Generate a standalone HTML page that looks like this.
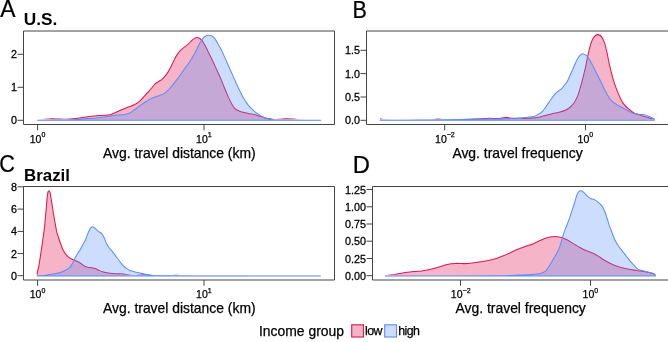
<!DOCTYPE html>
<html><head><meta charset="utf-8"><title>Income group travel densities</title>
<style>
html,body{margin:0;padding:0;background:#fff;}
body{width:668px;height:342px;overflow:hidden;}
svg{display:block;will-change:transform;}
text{font-family:"Liberation Sans", sans-serif;fill:#000;stroke:#000;stroke-width:0.25px;}
</style></head>
<body>
<svg width="668" height="342" viewBox="0 0 668 342">
<rect width="668" height="342" fill="#fff"/>
<clipPath id="rc1"><rect x="34.60" y="0" width="289.00" height="119.00"/></clipPath><path d="M37.60,120.20 C38.83,120.05 42.60,119.53 45.00,119.30 C47.40,119.07 49.83,118.85 52.00,118.80 C54.17,118.75 56.00,118.93 58.00,119.00 C60.00,119.07 62.00,119.22 64.00,119.20 C66.00,119.18 68.02,119.03 70.00,118.90 C71.98,118.77 74.07,118.60 75.90,118.40 C77.73,118.20 79.25,117.95 81.00,117.70 C82.75,117.45 84.65,117.15 86.40,116.90 C88.15,116.65 89.75,116.40 91.50,116.20 C93.25,116.00 95.15,115.83 96.90,115.70 C98.65,115.57 100.25,115.52 102.00,115.40 C103.75,115.28 105.90,115.17 107.40,115.00 C108.90,114.83 109.55,114.85 111.00,114.40 C112.45,113.95 114.23,113.12 116.10,112.30 C117.97,111.48 120.17,110.38 122.20,109.50 C124.23,108.62 126.28,107.80 128.30,107.00 C130.32,106.20 132.53,105.55 134.30,104.70 C136.07,103.85 137.37,103.17 138.90,101.90 C140.43,100.63 142.07,98.65 143.50,97.10 C144.93,95.55 146.33,93.87 147.50,92.60 C148.67,91.33 149.23,90.95 150.50,89.50 C151.77,88.05 153.47,85.40 155.10,83.90 C156.73,82.40 158.78,81.62 160.30,80.50 C161.82,79.38 162.92,78.60 164.20,77.20 C165.48,75.80 166.83,73.92 168.00,72.10 C169.17,70.28 170.20,68.27 171.20,66.30 C172.20,64.33 173.03,62.20 174.00,60.30 C174.97,58.40 176.00,56.47 177.00,54.90 C178.00,53.33 178.83,52.15 180.00,50.90 C181.17,49.65 182.68,48.48 184.00,47.40 C185.32,46.32 186.58,45.57 187.90,44.40 C189.22,43.23 190.73,41.45 191.90,40.40 C193.07,39.35 194.07,38.58 194.90,38.10 C195.73,37.62 196.15,37.48 196.90,37.50 C197.65,37.52 198.57,37.72 199.40,38.20 C200.23,38.68 201.00,39.28 201.90,40.40 C202.80,41.52 203.82,43.15 204.80,44.90 C205.78,46.65 206.80,48.90 207.80,50.90 C208.80,52.90 209.80,54.85 210.80,56.90 C211.80,58.95 212.72,60.85 213.80,63.20 C214.88,65.55 216.10,68.35 217.30,71.00 C218.50,73.65 219.82,76.32 221.00,79.10 C222.18,81.88 223.15,84.65 224.40,87.70 C225.65,90.75 227.05,94.32 228.50,97.40 C229.95,100.48 231.70,104.10 233.10,106.20 C234.50,108.30 235.43,109.05 236.90,110.00 C238.37,110.95 240.02,111.33 241.90,111.90 C243.78,112.47 245.85,112.88 248.20,113.40 C250.55,113.92 253.70,114.43 256.00,115.00 C258.30,115.57 260.00,116.20 262.00,116.80 C264.00,117.40 266.00,118.17 268.00,118.60 C270.00,119.03 272.00,119.30 274.00,119.40 C276.00,119.50 278.02,119.32 280.00,119.20 C281.98,119.08 283.92,118.75 285.90,118.70 C287.88,118.65 289.90,118.77 291.90,118.90 C293.90,119.03 295.90,119.33 297.90,119.50 C299.90,119.67 300.12,119.82 303.90,119.90 C307.68,119.98 317.82,119.98 320.60,120.00 L320.60,120.20 L37.60,120.20Z" fill="rgba(225,22,82,0.32)"/><path d="M37.60,120.20 C38.83,120.05 42.60,119.53 45.00,119.30 C47.40,119.07 49.83,118.85 52.00,118.80 C54.17,118.75 56.00,118.93 58.00,119.00 C60.00,119.07 62.00,119.22 64.00,119.20 C66.00,119.18 68.02,119.03 70.00,118.90 C71.98,118.77 74.07,118.60 75.90,118.40 C77.73,118.20 79.25,117.95 81.00,117.70 C82.75,117.45 84.65,117.15 86.40,116.90 C88.15,116.65 89.75,116.40 91.50,116.20 C93.25,116.00 95.15,115.83 96.90,115.70 C98.65,115.57 100.25,115.52 102.00,115.40 C103.75,115.28 105.90,115.17 107.40,115.00 C108.90,114.83 109.55,114.85 111.00,114.40 C112.45,113.95 114.23,113.12 116.10,112.30 C117.97,111.48 120.17,110.38 122.20,109.50 C124.23,108.62 126.28,107.80 128.30,107.00 C130.32,106.20 132.53,105.55 134.30,104.70 C136.07,103.85 137.37,103.17 138.90,101.90 C140.43,100.63 142.07,98.65 143.50,97.10 C144.93,95.55 146.33,93.87 147.50,92.60 C148.67,91.33 149.23,90.95 150.50,89.50 C151.77,88.05 153.47,85.40 155.10,83.90 C156.73,82.40 158.78,81.62 160.30,80.50 C161.82,79.38 162.92,78.60 164.20,77.20 C165.48,75.80 166.83,73.92 168.00,72.10 C169.17,70.28 170.20,68.27 171.20,66.30 C172.20,64.33 173.03,62.20 174.00,60.30 C174.97,58.40 176.00,56.47 177.00,54.90 C178.00,53.33 178.83,52.15 180.00,50.90 C181.17,49.65 182.68,48.48 184.00,47.40 C185.32,46.32 186.58,45.57 187.90,44.40 C189.22,43.23 190.73,41.45 191.90,40.40 C193.07,39.35 194.07,38.58 194.90,38.10 C195.73,37.62 196.15,37.48 196.90,37.50 C197.65,37.52 198.57,37.72 199.40,38.20 C200.23,38.68 201.00,39.28 201.90,40.40 C202.80,41.52 203.82,43.15 204.80,44.90 C205.78,46.65 206.80,48.90 207.80,50.90 C208.80,52.90 209.80,54.85 210.80,56.90 C211.80,58.95 212.72,60.85 213.80,63.20 C214.88,65.55 216.10,68.35 217.30,71.00 C218.50,73.65 219.82,76.32 221.00,79.10 C222.18,81.88 223.15,84.65 224.40,87.70 C225.65,90.75 227.05,94.32 228.50,97.40 C229.95,100.48 231.70,104.10 233.10,106.20 C234.50,108.30 235.43,109.05 236.90,110.00 C238.37,110.95 240.02,111.33 241.90,111.90 C243.78,112.47 245.85,112.88 248.20,113.40 C250.55,113.92 253.70,114.43 256.00,115.00 C258.30,115.57 260.00,116.20 262.00,116.80 C264.00,117.40 266.00,118.17 268.00,118.60 C270.00,119.03 272.00,119.30 274.00,119.40 C276.00,119.50 278.02,119.32 280.00,119.20 C281.98,119.08 283.92,118.75 285.90,118.70 C287.88,118.65 289.90,118.77 291.90,118.90 C293.90,119.03 295.90,119.33 297.90,119.50 C299.90,119.67 300.12,119.82 303.90,119.90 C307.68,119.98 317.82,119.98 320.60,120.00" fill="none" stroke="#e11652" stroke-width="1.05" stroke-linejoin="round" clip-path="url(#rc1)"/>
<path d="M37.60,120.20 C40.50,120.18 49.12,120.18 55.00,120.10 C60.88,120.02 68.92,119.85 72.90,119.70 C76.88,119.55 76.38,119.38 78.90,119.20 C81.42,119.02 85.00,118.80 88.00,118.60 C91.00,118.40 94.57,118.22 96.90,118.00 C99.23,117.78 100.02,117.58 102.00,117.30 C103.98,117.02 106.97,116.60 108.80,116.30 C110.63,116.00 111.53,115.73 113.00,115.50 C114.47,115.27 115.57,115.08 117.60,114.90 C119.63,114.72 123.17,114.72 125.20,114.40 C127.23,114.08 128.28,113.77 129.80,113.00 C131.32,112.23 132.78,110.88 134.30,109.80 C135.82,108.72 137.12,107.77 138.90,106.50 C140.68,105.23 143.15,103.43 145.00,102.20 C146.85,100.97 148.32,99.98 150.00,99.10 C151.68,98.22 153.38,97.53 155.10,96.90 C156.82,96.27 158.58,96.00 160.30,95.30 C162.02,94.60 163.68,94.00 165.40,92.70 C167.12,91.40 168.88,89.43 170.60,87.50 C172.32,85.57 173.98,83.35 175.70,81.10 C177.42,78.85 179.27,76.25 180.90,74.00 C182.53,71.75 184.25,69.30 185.50,67.60 C186.75,65.90 187.50,65.08 188.40,63.80 C189.30,62.52 189.98,61.38 190.90,59.90 C191.82,58.42 192.90,56.73 193.90,54.90 C194.90,53.07 195.90,50.90 196.90,48.90 C197.90,46.90 198.98,44.55 199.90,42.90 C200.82,41.25 201.58,40.07 202.40,39.00 C203.22,37.93 203.90,37.12 204.80,36.50 C205.70,35.88 206.80,35.45 207.80,35.30 C208.80,35.15 209.80,35.25 210.80,35.60 C211.80,35.95 212.93,36.60 213.80,37.40 C214.67,38.20 215.25,39.22 216.00,40.40 C216.75,41.58 217.38,42.87 218.30,44.50 C219.22,46.13 220.37,47.93 221.50,50.20 C222.63,52.47 223.92,55.47 225.10,58.10 C226.28,60.73 227.43,63.37 228.60,66.00 C229.77,68.63 230.93,71.27 232.10,73.90 C233.27,76.53 234.47,79.28 235.60,81.80 C236.73,84.32 237.63,86.37 238.90,89.00 C240.17,91.63 241.65,94.92 243.20,97.60 C244.75,100.28 246.50,102.97 248.20,105.10 C249.90,107.23 251.87,108.98 253.40,110.40 C254.93,111.82 255.97,112.57 257.40,113.60 C258.83,114.63 260.43,115.78 262.00,116.60 C263.57,117.42 265.20,118.00 266.80,118.50 C268.40,119.00 269.40,119.33 271.60,119.60 C273.80,119.87 271.83,120.00 280.00,120.10 C288.17,120.20 313.83,120.18 320.60,120.20 L320.60,120.20 L37.60,120.20Z" fill="rgba(91,142,248,0.30)" stroke="#5b8ef8" stroke-width="1.05" stroke-linejoin="round"/>
<path d="M23.50,31.00 H334.50 V124.50 H23.50 Z" fill="none" stroke="#444" stroke-width="1"/>
<path d="M17.50,120.30 H23.50" stroke="#444" stroke-width="1"/>
<text transform="translate(16.90,124.30) scale(1.080,1)" font-size="10.00" text-anchor="end" font-weight="normal">0</text>
<path d="M17.50,87.30 H23.50" stroke="#444" stroke-width="1"/>
<text transform="translate(16.90,91.30) scale(1.080,1)" font-size="10.00" text-anchor="end" font-weight="normal">1</text>
<path d="M17.50,54.30 H23.50" stroke="#444" stroke-width="1"/>
<text transform="translate(16.90,58.30) scale(1.080,1)" font-size="10.00" text-anchor="end" font-weight="normal">2</text>
<path d="M37.60,124.50 V130.30" stroke="#444" stroke-width="1"/>
<text x="37.50" y="142.80" font-size="10.50" text-anchor="middle">10<tspan font-size="7" dy="-5.4">0</tspan></text>
<path d="M204.00,124.50 V130.30" stroke="#444" stroke-width="1"/>
<text x="203.90" y="142.80" font-size="10.50" text-anchor="middle">10<tspan font-size="7" dy="-5.4">1</tspan></text>
<text x="179.30" y="157.90" font-size="13.90" text-anchor="middle" font-weight="normal">Avg. travel distance (km)</text>
<clipPath id="rc2"><rect x="377.00" y="0" width="280.20" height="119.00"/></clipPath><path d="M380.00,119.00 C380.83,119.10 381.67,119.47 385.00,119.60 C388.33,119.73 394.17,119.78 400.00,119.80 C405.83,119.82 414.67,119.72 420.00,119.70 C425.33,119.68 429.00,119.82 432.00,119.70 C435.00,119.58 436.00,119.02 438.00,119.00 C440.00,118.98 440.33,119.52 444.00,119.60 C447.67,119.68 454.83,119.60 460.00,119.50 C465.17,119.40 470.00,119.20 475.00,119.00 C480.00,118.80 486.17,118.37 490.00,118.30 C493.83,118.23 495.42,118.75 498.00,118.60 C500.58,118.45 503.17,117.45 505.50,117.40 C507.83,117.35 509.82,118.03 512.00,118.30 C514.18,118.57 515.93,119.00 518.60,119.00 C521.27,119.00 524.65,118.60 528.00,118.30 C531.35,118.00 535.87,117.67 538.70,117.20 C541.53,116.73 542.90,116.05 545.00,115.50 C547.10,114.95 549.00,114.43 551.30,113.90 C553.60,113.37 556.28,113.00 558.80,112.30 C561.32,111.60 564.08,110.97 566.40,109.70 C568.72,108.43 570.82,107.00 572.70,104.70 C574.58,102.40 576.23,99.47 577.70,95.90 C579.17,92.33 580.23,87.92 581.50,83.30 C582.77,78.68 584.25,72.80 585.30,68.20 C586.35,63.60 586.85,59.88 587.80,55.70 C588.75,51.52 589.95,46.25 591.00,43.10 C592.05,39.95 592.97,38.22 594.10,36.80 C595.23,35.38 596.55,34.60 597.80,34.60 C599.05,34.60 600.47,35.38 601.60,36.80 C602.73,38.22 603.68,40.37 604.60,43.10 C605.52,45.83 606.25,49.43 607.10,53.20 C607.95,56.97 608.73,61.52 609.70,65.70 C610.67,69.88 611.73,74.32 612.90,78.30 C614.07,82.28 615.43,86.25 616.70,89.60 C617.97,92.95 619.25,95.88 620.50,98.40 C621.75,100.92 622.73,102.85 624.20,104.70 C625.67,106.55 627.62,108.08 629.30,109.50 C630.98,110.92 632.22,112.17 634.30,113.20 C636.38,114.23 639.52,114.98 641.80,115.70 C644.08,116.42 645.93,116.90 648.00,117.50 C650.07,118.10 653.17,119.00 654.20,119.30 L654.20,120.20 L380.00,120.20Z" fill="rgba(225,22,82,0.32)"/><path d="M380.00,119.00 C380.83,119.10 381.67,119.47 385.00,119.60 C388.33,119.73 394.17,119.78 400.00,119.80 C405.83,119.82 414.67,119.72 420.00,119.70 C425.33,119.68 429.00,119.82 432.00,119.70 C435.00,119.58 436.00,119.02 438.00,119.00 C440.00,118.98 440.33,119.52 444.00,119.60 C447.67,119.68 454.83,119.60 460.00,119.50 C465.17,119.40 470.00,119.20 475.00,119.00 C480.00,118.80 486.17,118.37 490.00,118.30 C493.83,118.23 495.42,118.75 498.00,118.60 C500.58,118.45 503.17,117.45 505.50,117.40 C507.83,117.35 509.82,118.03 512.00,118.30 C514.18,118.57 515.93,119.00 518.60,119.00 C521.27,119.00 524.65,118.60 528.00,118.30 C531.35,118.00 535.87,117.67 538.70,117.20 C541.53,116.73 542.90,116.05 545.00,115.50 C547.10,114.95 549.00,114.43 551.30,113.90 C553.60,113.37 556.28,113.00 558.80,112.30 C561.32,111.60 564.08,110.97 566.40,109.70 C568.72,108.43 570.82,107.00 572.70,104.70 C574.58,102.40 576.23,99.47 577.70,95.90 C579.17,92.33 580.23,87.92 581.50,83.30 C582.77,78.68 584.25,72.80 585.30,68.20 C586.35,63.60 586.85,59.88 587.80,55.70 C588.75,51.52 589.95,46.25 591.00,43.10 C592.05,39.95 592.97,38.22 594.10,36.80 C595.23,35.38 596.55,34.60 597.80,34.60 C599.05,34.60 600.47,35.38 601.60,36.80 C602.73,38.22 603.68,40.37 604.60,43.10 C605.52,45.83 606.25,49.43 607.10,53.20 C607.95,56.97 608.73,61.52 609.70,65.70 C610.67,69.88 611.73,74.32 612.90,78.30 C614.07,82.28 615.43,86.25 616.70,89.60 C617.97,92.95 619.25,95.88 620.50,98.40 C621.75,100.92 622.73,102.85 624.20,104.70 C625.67,106.55 627.62,108.08 629.30,109.50 C630.98,110.92 632.22,112.17 634.30,113.20 C636.38,114.23 639.52,114.98 641.80,115.70 C644.08,116.42 645.93,116.90 648.00,117.50 C650.07,118.10 653.17,119.00 654.20,119.30" fill="none" stroke="#e11652" stroke-width="1.05" stroke-linejoin="round" clip-path="url(#rc2)"/>
<path d="M380.00,120.20 C386.67,120.18 406.67,120.20 420.00,120.10 C433.33,120.00 448.33,119.78 460.00,119.60 C471.67,119.42 483.17,119.10 490.00,119.00 C496.83,118.90 495.82,119.22 501.00,119.00 C506.18,118.78 515.65,118.13 521.10,117.70 C526.55,117.27 530.88,116.93 533.70,116.40 C536.52,115.87 536.53,115.33 538.00,114.50 C539.47,113.67 540.70,113.38 542.50,111.40 C544.30,109.42 546.70,105.53 548.80,102.60 C550.90,99.67 553.00,96.10 555.10,93.80 C557.20,91.50 559.75,90.35 561.40,88.80 C563.05,87.25 563.97,85.83 565.00,84.50 C566.03,83.17 566.32,83.30 567.60,80.80 C568.88,78.30 571.22,72.85 572.70,69.50 C574.18,66.15 575.25,63.08 576.50,60.70 C577.75,58.32 579.17,56.37 580.20,55.20 C581.23,54.03 581.65,53.62 582.70,53.70 C583.75,53.78 585.03,54.12 586.50,55.70 C587.97,57.28 589.82,60.27 591.50,63.20 C593.18,66.13 594.92,69.95 596.60,73.30 C598.28,76.65 599.93,79.95 601.60,83.30 C603.27,86.65 604.92,90.47 606.60,93.40 C608.28,96.33 609.60,98.80 611.70,100.90 C613.80,103.00 616.68,104.48 619.20,106.00 C621.72,107.52 624.67,108.83 626.80,110.00 C628.93,111.17 629.92,112.27 632.00,113.00 C634.08,113.73 637.23,114.12 639.30,114.40 C641.37,114.68 642.72,114.37 644.40,114.70 C646.08,115.03 647.77,115.68 649.40,116.40 C651.03,117.12 653.40,118.57 654.20,119.00 L654.20,120.20 L380.00,120.20Z" fill="rgba(91,142,248,0.30)" stroke="#5b8ef8" stroke-width="1.05" stroke-linejoin="round"/>
<path d="M366.50,31.00 H669.00 V124.50 H366.50 Z" fill="none" stroke="#444" stroke-width="1"/>
<path d="M360.50,120.30 H366.50" stroke="#444" stroke-width="1"/>
<text transform="translate(359.90,124.30) scale(1.080,1)" font-size="10.00" text-anchor="end" font-weight="normal">0.0</text>
<path d="M360.50,97.00 H366.50" stroke="#444" stroke-width="1"/>
<text transform="translate(359.90,101.00) scale(1.080,1)" font-size="10.00" text-anchor="end" font-weight="normal">0.5</text>
<path d="M360.50,73.60 H366.50" stroke="#444" stroke-width="1"/>
<text transform="translate(359.90,77.60) scale(1.080,1)" font-size="10.00" text-anchor="end" font-weight="normal">1.0</text>
<path d="M360.50,50.30 H366.50" stroke="#444" stroke-width="1"/>
<text transform="translate(359.90,54.30) scale(1.080,1)" font-size="10.00" text-anchor="end" font-weight="normal">1.5</text>
<path d="M444.70,124.50 V130.30" stroke="#444" stroke-width="1"/>
<text x="444.90" y="142.80" font-size="10.50" text-anchor="middle">10<tspan font-size="7" dy="-5.4">−2</tspan></text>
<path d="M585.50,124.50 V130.30" stroke="#444" stroke-width="1"/>
<text x="585.40" y="142.80" font-size="10.50" text-anchor="middle">10<tspan font-size="7" dy="-5.4">0</tspan></text>
<text x="517.50" y="157.50" font-size="13.90" text-anchor="middle" font-weight="normal">Avg. travel frequency</text>
<clipPath id="rc3"><rect x="34.10" y="0" width="289.30" height="274.80"/></clipPath><path d="M37.10,275.80 C37.15,275.15 37.15,273.32 37.40,271.90 C37.65,270.48 38.15,269.58 38.60,267.30 C39.05,265.02 39.58,261.48 40.10,258.20 C40.62,254.92 41.17,251.25 41.70,247.60 C42.23,243.95 42.80,239.93 43.30,236.30 C43.80,232.67 44.35,228.97 44.70,225.80 C45.05,222.63 45.15,220.08 45.40,217.30 C45.65,214.52 45.92,212.22 46.20,209.10 C46.48,205.98 46.82,201.38 47.10,198.60 C47.38,195.82 47.62,193.72 47.90,192.40 C48.18,191.08 48.45,190.70 48.80,190.70 C49.15,190.70 49.57,190.80 50.00,192.40 C50.43,194.00 50.90,197.22 51.40,200.30 C51.90,203.38 52.43,207.38 53.00,210.90 C53.57,214.42 54.18,217.97 54.80,221.40 C55.42,224.83 56.12,228.93 56.70,231.50 C57.28,234.07 57.70,234.92 58.30,236.80 C58.90,238.68 59.48,240.55 60.30,242.80 C61.12,245.05 62.10,248.17 63.20,250.30 C64.30,252.43 65.77,254.30 66.90,255.60 C68.03,256.90 68.90,257.40 70.00,258.10 C71.10,258.80 72.33,259.27 73.50,259.80 C74.67,260.33 75.83,260.72 77.00,261.30 C78.17,261.88 79.33,262.57 80.50,263.30 C81.67,264.03 82.83,265.05 84.00,265.70 C85.17,266.35 86.18,266.87 87.50,267.20 C88.82,267.53 90.58,267.47 91.90,267.70 C93.22,267.93 94.23,268.17 95.40,268.60 C96.57,269.03 97.58,269.75 98.90,270.30 C100.22,270.85 101.68,271.47 103.30,271.90 C104.92,272.33 106.55,272.60 108.60,272.90 C110.65,273.20 113.55,273.55 115.60,273.70 C117.65,273.85 119.15,273.68 120.90,273.80 C122.65,273.92 124.58,274.17 126.10,274.40 C127.62,274.63 128.42,275.03 130.00,275.20 C131.58,275.37 133.67,275.45 135.60,275.40 C137.53,275.35 140.02,275.03 141.60,274.90 C143.18,274.77 143.92,274.57 145.10,274.60 C146.28,274.63 147.05,274.93 148.70,275.10 C150.35,275.27 151.45,275.52 155.00,275.60 C158.55,275.68 166.25,275.67 170.00,275.60 C173.75,275.53 175.00,275.20 177.50,275.20 C180.00,275.20 172.92,275.52 185.00,275.60 C197.08,275.68 227.43,275.68 250.00,275.70 C272.57,275.72 308.67,275.70 320.40,275.70 L320.40,276.00 L37.10,276.00Z" fill="rgba(225,22,82,0.32)"/><path d="M37.10,275.80 C37.15,275.15 37.15,273.32 37.40,271.90 C37.65,270.48 38.15,269.58 38.60,267.30 C39.05,265.02 39.58,261.48 40.10,258.20 C40.62,254.92 41.17,251.25 41.70,247.60 C42.23,243.95 42.80,239.93 43.30,236.30 C43.80,232.67 44.35,228.97 44.70,225.80 C45.05,222.63 45.15,220.08 45.40,217.30 C45.65,214.52 45.92,212.22 46.20,209.10 C46.48,205.98 46.82,201.38 47.10,198.60 C47.38,195.82 47.62,193.72 47.90,192.40 C48.18,191.08 48.45,190.70 48.80,190.70 C49.15,190.70 49.57,190.80 50.00,192.40 C50.43,194.00 50.90,197.22 51.40,200.30 C51.90,203.38 52.43,207.38 53.00,210.90 C53.57,214.42 54.18,217.97 54.80,221.40 C55.42,224.83 56.12,228.93 56.70,231.50 C57.28,234.07 57.70,234.92 58.30,236.80 C58.90,238.68 59.48,240.55 60.30,242.80 C61.12,245.05 62.10,248.17 63.20,250.30 C64.30,252.43 65.77,254.30 66.90,255.60 C68.03,256.90 68.90,257.40 70.00,258.10 C71.10,258.80 72.33,259.27 73.50,259.80 C74.67,260.33 75.83,260.72 77.00,261.30 C78.17,261.88 79.33,262.57 80.50,263.30 C81.67,264.03 82.83,265.05 84.00,265.70 C85.17,266.35 86.18,266.87 87.50,267.20 C88.82,267.53 90.58,267.47 91.90,267.70 C93.22,267.93 94.23,268.17 95.40,268.60 C96.57,269.03 97.58,269.75 98.90,270.30 C100.22,270.85 101.68,271.47 103.30,271.90 C104.92,272.33 106.55,272.60 108.60,272.90 C110.65,273.20 113.55,273.55 115.60,273.70 C117.65,273.85 119.15,273.68 120.90,273.80 C122.65,273.92 124.58,274.17 126.10,274.40 C127.62,274.63 128.42,275.03 130.00,275.20 C131.58,275.37 133.67,275.45 135.60,275.40 C137.53,275.35 140.02,275.03 141.60,274.90 C143.18,274.77 143.92,274.57 145.10,274.60 C146.28,274.63 147.05,274.93 148.70,275.10 C150.35,275.27 151.45,275.52 155.00,275.60 C158.55,275.68 166.25,275.67 170.00,275.60 C173.75,275.53 175.00,275.20 177.50,275.20 C180.00,275.20 172.92,275.52 185.00,275.60 C197.08,275.68 227.43,275.68 250.00,275.70 C272.57,275.72 308.67,275.70 320.40,275.70" fill="none" stroke="#e11652" stroke-width="1.05" stroke-linejoin="round" clip-path="url(#rc3)"/>
<path d="M37.10,275.90 C38.25,275.82 42.07,275.60 44.00,275.40 C45.93,275.20 47.15,274.93 48.70,274.70 C50.25,274.47 51.75,274.28 53.30,274.00 C54.85,273.72 56.43,273.43 58.00,273.00 C59.57,272.57 61.13,272.03 62.70,271.40 C64.27,270.77 66.15,269.95 67.40,269.20 C68.65,268.45 69.35,267.90 70.20,266.90 C71.05,265.90 71.73,264.58 72.50,263.20 C73.27,261.82 73.92,260.25 74.80,258.60 C75.68,256.95 76.93,254.75 77.80,253.30 C78.67,251.85 79.35,251.00 80.00,249.90 C80.65,248.80 81.12,247.77 81.70,246.70 C82.28,245.63 82.88,244.62 83.50,243.50 C84.12,242.38 84.82,241.28 85.40,240.00 C85.98,238.72 86.50,237.10 87.00,235.80 C87.50,234.50 87.93,233.27 88.40,232.20 C88.87,231.13 89.37,230.15 89.80,229.40 C90.23,228.65 90.52,228.15 91.00,227.70 C91.48,227.25 92.00,226.60 92.70,226.70 C93.40,226.80 94.27,227.52 95.20,228.30 C96.13,229.08 97.28,230.58 98.30,231.40 C99.32,232.22 100.38,232.28 101.30,233.20 C102.22,234.12 102.97,235.28 103.80,236.90 C104.63,238.52 105.48,241.17 106.30,242.90 C107.12,244.63 107.68,245.85 108.70,247.30 C109.72,248.75 111.17,250.07 112.40,251.60 C113.63,253.13 114.77,254.72 116.10,256.50 C117.43,258.28 119.25,260.83 120.40,262.30 C121.55,263.77 122.05,264.33 123.00,265.30 C123.95,266.27 124.93,267.23 126.10,268.10 C127.27,268.97 128.52,269.87 130.00,270.50 C131.48,271.13 133.33,271.47 135.00,271.90 C136.67,272.33 138.33,272.72 140.00,273.10 C141.67,273.48 143.15,273.85 145.00,274.20 C146.85,274.55 148.68,274.93 151.10,275.20 C153.52,275.47 151.35,275.67 159.50,275.80 C167.65,275.93 173.18,275.97 200.00,276.00 C226.82,276.03 300.33,276.00 320.40,276.00 L320.40,276.00 L37.10,276.00Z" fill="rgba(91,142,248,0.30)" stroke="#5b8ef8" stroke-width="1.05" stroke-linejoin="round"/>
<path d="M23.50,186.50 H334.50 V280.00 H23.50 Z" fill="none" stroke="#444" stroke-width="1"/>
<path d="M17.50,275.70 H23.50" stroke="#444" stroke-width="1"/>
<text transform="translate(16.90,279.70) scale(1.080,1)" font-size="10.00" text-anchor="end" font-weight="normal">0</text>
<path d="M17.50,253.60 H23.50" stroke="#444" stroke-width="1"/>
<text transform="translate(16.90,257.60) scale(1.080,1)" font-size="10.00" text-anchor="end" font-weight="normal">2</text>
<path d="M17.50,231.40 H23.50" stroke="#444" stroke-width="1"/>
<text transform="translate(16.90,235.40) scale(1.080,1)" font-size="10.00" text-anchor="end" font-weight="normal">4</text>
<path d="M17.50,209.10 H23.50" stroke="#444" stroke-width="1"/>
<text transform="translate(16.90,213.10) scale(1.080,1)" font-size="10.00" text-anchor="end" font-weight="normal">6</text>
<path d="M17.50,186.80 H23.50" stroke="#444" stroke-width="1"/>
<text transform="translate(16.90,190.80) scale(1.080,1)" font-size="10.00" text-anchor="end" font-weight="normal">8</text>
<path d="M37.60,280.00 V285.80" stroke="#444" stroke-width="1"/>
<text x="37.50" y="298.30" font-size="10.50" text-anchor="middle">10<tspan font-size="7" dy="-5.4">0</tspan></text>
<path d="M204.00,280.00 V285.80" stroke="#444" stroke-width="1"/>
<text x="203.90" y="298.30" font-size="10.50" text-anchor="middle">10<tspan font-size="7" dy="-5.4">1</tspan></text>
<text x="179.30" y="313.40" font-size="13.90" text-anchor="middle" font-weight="normal">Avg. travel distance (km)</text>
<clipPath id="rc4"><rect x="382.40" y="0" width="275.90" height="274.80"/></clipPath><path d="M385.40,275.70 C386.50,275.55 389.90,275.13 392.00,274.80 C394.10,274.47 396.00,274.05 398.00,273.70 C400.00,273.35 402.02,273.00 404.00,272.70 C405.98,272.40 407.92,272.12 409.90,271.90 C411.88,271.68 413.90,271.57 415.90,271.40 C417.90,271.23 419.90,271.12 421.90,270.90 C423.90,270.68 425.90,270.50 427.90,270.10 C429.90,269.70 431.90,269.07 433.90,268.50 C435.90,267.93 437.90,267.32 439.90,266.70 C441.90,266.08 444.05,265.30 445.90,264.80 C447.75,264.30 449.32,263.93 451.00,263.70 C452.68,263.47 454.17,263.42 456.00,263.40 C457.83,263.38 460.00,263.58 462.00,263.60 C464.00,263.62 466.00,263.63 468.00,263.50 C470.00,263.37 472.02,263.08 474.00,262.80 C475.98,262.52 477.92,262.12 479.90,261.80 C481.88,261.48 483.90,261.25 485.90,260.90 C487.90,260.55 489.90,260.18 491.90,259.70 C493.90,259.22 495.90,258.68 497.90,258.00 C499.90,257.32 501.90,256.45 503.90,255.60 C505.90,254.75 507.90,253.82 509.90,252.90 C511.90,251.98 513.90,250.97 515.90,250.10 C517.90,249.23 519.92,248.47 521.90,247.70 C523.88,246.93 526.12,246.08 527.80,245.50 C529.48,244.92 530.30,244.87 532.00,244.20 C533.70,243.53 536.00,242.42 538.00,241.50 C540.00,240.58 542.00,239.47 544.00,238.70 C546.00,237.93 548.22,237.28 550.00,236.90 C551.78,236.52 553.12,236.40 554.70,236.40 C556.28,236.40 558.10,236.65 559.50,236.90 C560.90,237.15 561.70,237.33 563.10,237.90 C564.50,238.47 566.10,239.30 567.90,240.30 C569.70,241.30 571.90,242.70 573.90,243.90 C575.90,245.10 577.90,246.42 579.90,247.50 C581.90,248.58 583.90,249.52 585.90,250.40 C587.90,251.28 589.90,251.88 591.90,252.80 C593.90,253.72 596.08,254.83 597.90,255.90 C599.72,256.97 600.85,258.02 602.80,259.20 C604.75,260.38 607.35,261.87 609.60,263.00 C611.85,264.13 614.05,265.15 616.30,266.00 C618.55,266.85 620.83,267.53 623.10,268.10 C625.37,268.67 627.63,268.98 629.90,269.40 C632.17,269.82 634.43,270.25 636.70,270.60 C638.97,270.95 641.25,271.13 643.50,271.50 C645.75,271.87 648.23,272.27 650.20,272.80 C652.17,273.33 654.45,274.38 655.30,274.70 L655.30,276.00 L385.40,276.00Z" fill="rgba(225,22,82,0.32)"/><path d="M385.40,275.70 C386.50,275.55 389.90,275.13 392.00,274.80 C394.10,274.47 396.00,274.05 398.00,273.70 C400.00,273.35 402.02,273.00 404.00,272.70 C405.98,272.40 407.92,272.12 409.90,271.90 C411.88,271.68 413.90,271.57 415.90,271.40 C417.90,271.23 419.90,271.12 421.90,270.90 C423.90,270.68 425.90,270.50 427.90,270.10 C429.90,269.70 431.90,269.07 433.90,268.50 C435.90,267.93 437.90,267.32 439.90,266.70 C441.90,266.08 444.05,265.30 445.90,264.80 C447.75,264.30 449.32,263.93 451.00,263.70 C452.68,263.47 454.17,263.42 456.00,263.40 C457.83,263.38 460.00,263.58 462.00,263.60 C464.00,263.62 466.00,263.63 468.00,263.50 C470.00,263.37 472.02,263.08 474.00,262.80 C475.98,262.52 477.92,262.12 479.90,261.80 C481.88,261.48 483.90,261.25 485.90,260.90 C487.90,260.55 489.90,260.18 491.90,259.70 C493.90,259.22 495.90,258.68 497.90,258.00 C499.90,257.32 501.90,256.45 503.90,255.60 C505.90,254.75 507.90,253.82 509.90,252.90 C511.90,251.98 513.90,250.97 515.90,250.10 C517.90,249.23 519.92,248.47 521.90,247.70 C523.88,246.93 526.12,246.08 527.80,245.50 C529.48,244.92 530.30,244.87 532.00,244.20 C533.70,243.53 536.00,242.42 538.00,241.50 C540.00,240.58 542.00,239.47 544.00,238.70 C546.00,237.93 548.22,237.28 550.00,236.90 C551.78,236.52 553.12,236.40 554.70,236.40 C556.28,236.40 558.10,236.65 559.50,236.90 C560.90,237.15 561.70,237.33 563.10,237.90 C564.50,238.47 566.10,239.30 567.90,240.30 C569.70,241.30 571.90,242.70 573.90,243.90 C575.90,245.10 577.90,246.42 579.90,247.50 C581.90,248.58 583.90,249.52 585.90,250.40 C587.90,251.28 589.90,251.88 591.90,252.80 C593.90,253.72 596.08,254.83 597.90,255.90 C599.72,256.97 600.85,258.02 602.80,259.20 C604.75,260.38 607.35,261.87 609.60,263.00 C611.85,264.13 614.05,265.15 616.30,266.00 C618.55,266.85 620.83,267.53 623.10,268.10 C625.37,268.67 627.63,268.98 629.90,269.40 C632.17,269.82 634.43,270.25 636.70,270.60 C638.97,270.95 641.25,271.13 643.50,271.50 C645.75,271.87 648.23,272.27 650.20,272.80 C652.17,273.33 654.45,274.38 655.30,274.70" fill="none" stroke="#e11652" stroke-width="1.05" stroke-linejoin="round" clip-path="url(#rc4)"/>
<path d="M385.40,276.00 C396.17,276.00 430.73,276.03 450.00,276.00 C469.27,275.97 489.50,275.95 501.00,275.80 C512.50,275.65 514.37,275.28 519.00,275.10 C523.63,274.92 525.80,274.87 528.80,274.70 C531.80,274.53 534.80,274.40 537.00,274.10 C539.20,273.80 540.50,273.48 542.00,272.90 C543.50,272.32 544.77,271.78 546.00,270.60 C547.23,269.42 548.15,267.77 549.40,265.80 C550.65,263.83 552.22,260.97 553.50,258.80 C554.78,256.63 556.00,254.98 557.10,252.80 C558.20,250.62 559.20,248.28 560.10,245.70 C561.00,243.12 561.70,239.90 562.50,237.30 C563.30,234.70 564.12,232.27 564.90,230.10 C565.68,227.93 566.42,226.35 567.20,224.30 C567.98,222.25 568.80,220.08 569.60,217.80 C570.40,215.52 571.20,212.98 572.00,210.60 C572.80,208.22 573.60,206.08 574.40,203.50 C575.20,200.92 576.10,197.03 576.80,195.10 C577.50,193.17 577.90,192.62 578.60,191.90 C579.30,191.18 580.10,190.67 581.00,190.80 C581.90,190.93 582.92,191.78 584.00,192.70 C585.08,193.62 586.32,195.30 587.50,196.30 C588.68,197.30 589.90,198.10 591.10,198.70 C592.30,199.30 593.50,199.30 594.70,199.90 C595.90,200.50 597.10,201.30 598.30,202.30 C599.50,203.30 600.80,204.32 601.90,205.90 C603.00,207.48 604.00,209.62 604.90,211.80 C605.80,213.98 606.62,216.92 607.30,219.00 C607.98,221.08 608.33,222.33 609.00,224.30 C609.67,226.27 610.37,228.32 611.30,230.80 C612.23,233.28 613.48,236.80 614.60,239.20 C615.72,241.60 616.58,243.07 618.00,245.20 C619.42,247.33 621.40,249.75 623.10,252.00 C624.80,254.25 626.50,256.58 628.20,258.70 C629.90,260.82 631.75,263.00 633.30,264.70 C634.85,266.40 636.08,267.92 637.50,268.90 C638.92,269.88 640.25,270.12 641.80,270.60 C643.35,271.08 645.12,271.38 646.80,271.80 C648.48,272.22 650.48,272.60 651.90,273.10 C653.32,273.60 654.73,274.52 655.30,274.80 L655.30,276.00 L385.40,276.00Z" fill="rgba(91,142,248,0.30)" stroke="#5b8ef8" stroke-width="1.05" stroke-linejoin="round"/>
<path d="M372.50,186.50 H669.00 V280.00 H372.50 Z" fill="none" stroke="#444" stroke-width="1"/>
<path d="M366.50,275.70 H372.50" stroke="#444" stroke-width="1"/>
<text transform="translate(365.90,279.70) scale(1.080,1)" font-size="10.00" text-anchor="end" font-weight="normal">0.00</text>
<path d="M366.50,258.50 H372.50" stroke="#444" stroke-width="1"/>
<text transform="translate(365.90,262.50) scale(1.080,1)" font-size="10.00" text-anchor="end" font-weight="normal">0.25</text>
<path d="M366.50,241.20 H372.50" stroke="#444" stroke-width="1"/>
<text transform="translate(365.90,245.20) scale(1.080,1)" font-size="10.00" text-anchor="end" font-weight="normal">0.50</text>
<path d="M366.50,224.00 H372.50" stroke="#444" stroke-width="1"/>
<text transform="translate(365.90,228.00) scale(1.080,1)" font-size="10.00" text-anchor="end" font-weight="normal">0.75</text>
<path d="M366.50,206.80 H372.50" stroke="#444" stroke-width="1"/>
<text transform="translate(365.90,210.80) scale(1.080,1)" font-size="10.00" text-anchor="end" font-weight="normal">1.00</text>
<path d="M366.50,189.50 H372.50" stroke="#444" stroke-width="1"/>
<text transform="translate(365.90,193.50) scale(1.080,1)" font-size="10.00" text-anchor="end" font-weight="normal">1.25</text>
<path d="M460.50,280.00 V285.80" stroke="#444" stroke-width="1"/>
<text x="460.70" y="298.30" font-size="10.50" text-anchor="middle">10<tspan font-size="7" dy="-5.4">−2</tspan></text>
<path d="M590.50,280.00 V285.80" stroke="#444" stroke-width="1"/>
<text x="590.40" y="298.30" font-size="10.50" text-anchor="middle">10<tspan font-size="7" dy="-5.4">0</tspan></text>
<text x="520.70" y="313.40" font-size="13.90" text-anchor="middle" font-weight="normal">Avg. travel frequency</text>
<text transform="translate(0.20,17.20) scale(0.965,1)" font-size="23.60" text-anchor="start" font-weight="normal">A</text>
<text transform="translate(352.40,17.50) scale(0.880,1)" font-size="24.50" text-anchor="start" font-weight="normal">B</text>
<text transform="translate(-0.70,172.40) scale(0.880,1)" font-size="24.50" text-anchor="start" font-weight="normal">C</text>
<text transform="translate(352.70,172.60) scale(0.970,1)" font-size="24.50" text-anchor="start" font-weight="normal">D</text>
<text transform="translate(23.80,25.40) scale(1.080,1)" font-size="16.00" text-anchor="start" font-weight="bold" style="stroke-width:0">U.S.</text>
<text transform="translate(24.00,180.60) scale(1.005,1)" font-size="16.80" text-anchor="start" font-weight="bold" style="stroke-width:0">Brazil</text>
<text x="259.00" y="335.80" font-size="13.90" text-anchor="start" font-weight="normal">Income group</text>
<rect x="351.7" y="324.8" width="11.8" height="12.2" fill="rgba(225,22,82,0.32)" stroke="#e11652" stroke-width="1.1"/>
<rect x="384.7" y="324.8" width="11.8" height="12.2" fill="rgba(91,142,248,0.30)" stroke="#5b8ef8" stroke-width="1.1"/>
<text x="365.00" y="334.60" font-size="12.40" text-anchor="start" font-weight="normal" letter-spacing="-0.6">low</text>
<text x="398.20" y="334.60" font-size="12.40" text-anchor="start" font-weight="normal" letter-spacing="-0.6">high</text>
</svg>
</body></html>
